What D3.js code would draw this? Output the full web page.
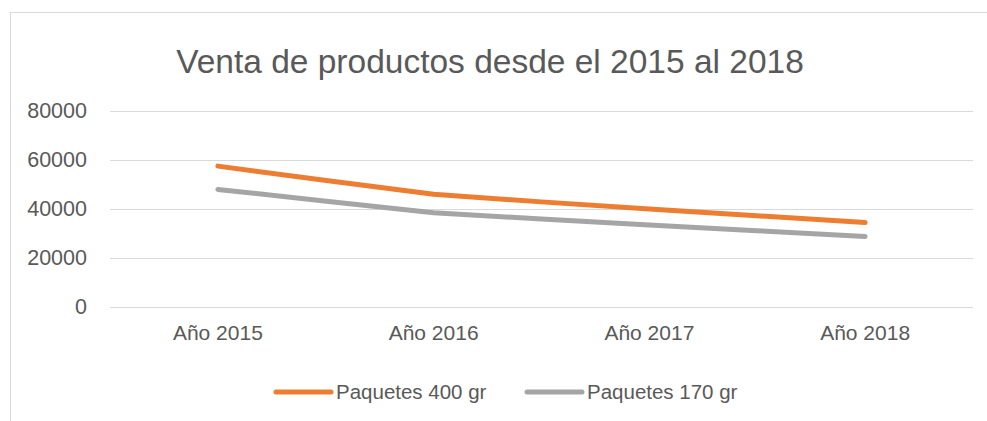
<!DOCTYPE html>
<html>
<head>
<meta charset="utf-8">
<script src="https://cdn.jsdelivr.net/npm/d3@7"></script>
<style>
  body { margin: 0; background: #fff; }
  text { font-family: "Liberation Sans", Arial, sans-serif; fill: #595959; }
</style>
</head>
<body>
<div id="chart"></div>
<script>
var W = 987, H = 421;

// datos
var categorias = ["Año 2015", "Año 2016", "Año 2017", "Año 2018"];
var paquetes400 = [57500, 46000, 40000, 34500];
var paquetes170 = [48000, 38500, 33500, 28800];
var ticksY = [0, 20000, 40000, 60000, 80000];
var series = [
  { name: "Paquetes 400 gr", values: paquetes400, color: "#ED7D31" },
  { name: "Paquetes 170 gr", values: paquetes170, color: "#A5A5A5" }
];

var margin = { left: 110, right: 14, top: 111, bottom: 114 };

var svg = d3.select("#chart").append("svg")
    .attr("width", W)
    .attr("height", H);

// marco del grafico
svg.append("rect")
    .attr("x", 10.5).attr("y", 12.5)
    .attr("width", W + 20).attr("height", H + 20)
    .attr("fill", "none")
    .attr("stroke", "#D9D9D9");

var x = d3.scaleBand().domain(categorias).range([margin.left, W - margin.right]);
var y = d3.scaleLinear().domain([0, 80000]).range([H - margin.bottom, margin.top]);

// titulo
svg.append("text")
    .attr("x", 490).attr("y", 73)
    .attr("text-anchor", "middle")
    .style("font-size", "33.5px")
    .text("Venta de productos desde el 2015 al 2018");

// lineas de cuadricula + etiquetas Y
var yAxis = svg.append("g")
    .attr("transform", "translate(" + margin.left + ",0)")
    .call(d3.axisLeft(y).tickValues(ticksY).tickSize(-(W - margin.left - margin.right)).tickPadding(23).tickFormat(d3.format("d")));
yAxis.select(".domain").remove();
yAxis.selectAll("line").attr("stroke", "#D9D9D9").attr("stroke-width", 1.2);
yAxis.selectAll("text").style("font-size", "21.5px").attr("fill", "#595959").style("font-family", null);

// etiquetas X
var xAxis = svg.append("g")
    .attr("transform", "translate(0," + (H - margin.bottom) + ")")
    .call(d3.axisBottom(x).tickSize(0).tickPadding(18));
xAxis.select(".domain").remove();
xAxis.selectAll("text").style("font-size", "21px").attr("fill", "#595959").style("font-family", null);

// lineas (suavizado leve)
var line = d3.line()
    .x(function(d, i) { return x(categorias[i]) + x.bandwidth() / 2; })
    .y(function(d) { return y(d); })
    .curve(d3.curveCardinal.tension(0.75));

svg.selectAll(".serie")
    .data(series)
    .enter()
    .append("path")
    .attr("class", "serie")
    .attr("d", function(s) { return line(s.values); })
    .attr("fill", "none")
    .attr("stroke", function(s) { return s.color; })
    .attr("stroke-width", 5)
    .attr("stroke-linecap", "round")
    .attr("stroke-linejoin", "round");

// leyenda
var legendX = [276, 527];
var leg = svg.selectAll(".leg")
    .data(series)
    .enter()
    .append("g")
    .attr("class", "leg")
    .attr("transform", function(d, i) { return "translate(" + legendX[i] + ",392)"; });

leg.append("line")
    .attr("x1", 0).attr("x2", 55)
    .attr("stroke", function(d) { return d.color; })
    .attr("stroke-width", 5)
    .attr("stroke-linecap", "round");

leg.append("text")
    .attr("x", 60).attr("dy", "0.35em")
    .style("font-size", "20.5px")
    .text(function(d) { return d.name; });
</script>
</body>
</html>
